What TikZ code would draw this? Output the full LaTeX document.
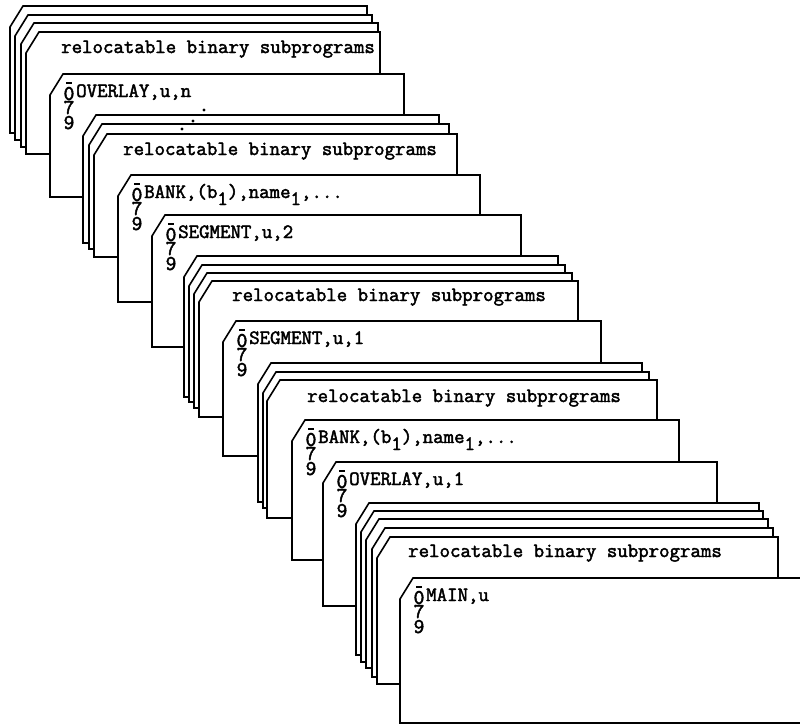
\documentclass[tikz,border=0pt]{standalone}
\usepackage{fontspec}
\newfontfamily\cardfont{Latin Modern Mono}[FakeBold=2.2]

% one card seen from the front: cut corner at top left
\newcommand{\deckcard}[4]{%
  \filldraw[card] ({#1+13},#2) -- (#3,#2) -- (#3,#4) -- (#1,#4) -- (#1,{#2+21}) -- cycle;}

% control card: punches 0-7-9 down the left, keyword beside them
\newcommand{\ctlcard}[6]{%
  \deckcard{#1}{#2}{#3}{#4}
  \node[row] (#5-0) at ({#1+19},{#2+26}) {0};
  \draw[overpunch] ([yshift=4pt]#5-0.north west) -- ([yshift=4pt]#5-0.north east);
  \node[row] (#5-7) at ({#1+19},{#2+40}) {7};
  \node[row] (#5-9) at ({#1+19},{#2+55}) {9};
  \node[cardtext] (#5) at ({#1+26},{#2+23}) {#6};}

\newcommand{\sub}[1]{\lower7pt\hbox{#1}}

\begin{document}
\begin{tikzpicture}[x=1pt,y=-1pt,
  card/.style={draw=black,fill=white,line width=1.6pt,line join=miter},
  cardtext/.style={anchor=base west,inner sep=0pt,font=\cardfont\fontsize{20.3}{22}\selectfont},
  row/.style={anchor=base,inner sep=0pt,font=\cardfont\fontsize{21}{23}\selectfont},
  overpunch/.style={line width=1.6pt,shorten >=3pt,shorten <=3pt}]

  \useasboundingbox (0,0) rectangle (800,725);
  \clip (0,0) rectangle (800,725);

  % deck A
  \deckcard{10}{6}{367}{133}
  \deckcard{15}{15}{372}{140}
  \deckcard{21}{23}{378}{147}
  \deckcard{26}{32}{380}{154}
  \node[cardtext] (relA) at (61,53) {relocatable binary subprograms};

  \ctlcard{50}{74}{404}{197}{ovn}{OVERLAY,u,n}

  % deck C
  \deckcard{83}{115}{439}{243}
  \deckcard{89}{124}{449}{249}
  \deckcard{94}{134}{457}{257}
  \node[cardtext] (relC) at (123,155) {relocatable binary subprograms};

  \ctlcard{118}{175}{480}{302}{bankA}{BANK,(b\sub{1}),name\sub{1},...}
  \ctlcard{152}{215}{521}{347}{seg2}{SEGMENT,u,2}

  % deck F
  \deckcard{184}{256}{558}{397}
  \deckcard{189}{265}{565}{402}
  \deckcard{194}{273}{572}{408}
  \deckcard{199}{281}{578}{417}
  \node[cardtext] (relF) at (232,301) {relocatable binary subprograms};

  \ctlcard{223}{321}{601}{456}{seg1}{SEGMENT,u,1}

  % deck H
  \deckcard{258}{363}{642}{502}
  \deckcard{263}{372}{649}{508}
  \deckcard{267}{380}{657}{518}
  \node[cardtext] (relH) at (307,402) {relocatable binary subprograms};

  \ctlcard{292}{420}{679}{560}{bankB}{BANK,(b\sub{1}),name\sub{1},...}
  \ctlcard{323}{462}{717}{606}{ov1}{OVERLAY,u,1}

  % deck K
  \deckcard{356}{503}{759}{655}
  \deckcard{361}{511}{763}{662}
  \deckcard{366}{519}{768}{668}
  \deckcard{372}{528}{773}{677}
  \deckcard{377}{537}{778}{684}
  \node[cardtext] (relK) at (408,557) {relocatable binary subprograms};

  \ctlcard{400}{578}{830}{723}{main}{MAIN,u}

  % dots between the overlays
  \fill (204,110) circle[radius=1.6pt];
  \fill (193,121) circle[radius=1.6pt];
  \fill (182,129) circle[radius=1.6pt];
\end{tikzpicture}
\end{document}
